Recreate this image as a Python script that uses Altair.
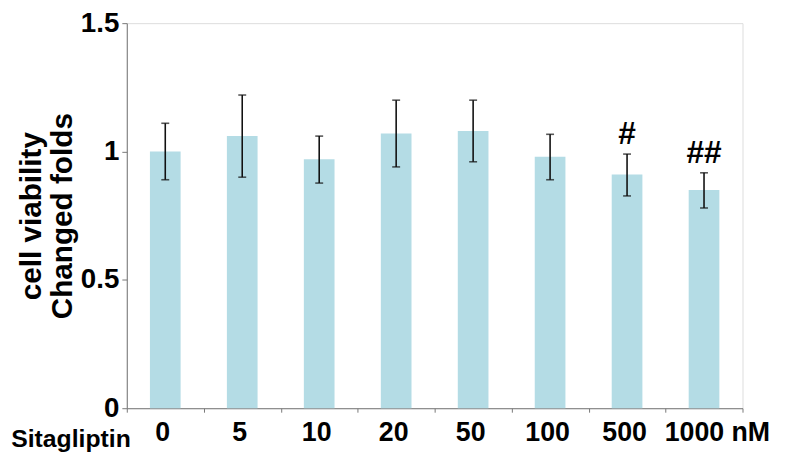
import altair as alt
import pandas as pd

doses = ["0", "5", "10", "20", "50", "100", "500", "1000"]
means = [1.00, 1.06, 0.97, 1.07, 1.08, 0.98, 0.91, 0.85]
err_low = [0.89, 0.90, 0.877, 0.94, 0.96, 0.89, 0.827, 0.78]
err_high = [1.11, 1.22, 1.06, 1.20, 1.20, 1.067, 0.99, 0.917]
marks = ["", "", "", "", "", "", "#", "##"]

df = pd.DataFrame({"dose": doses, "mean": means, "lo": err_low, "hi": err_high, "mark": marks})

FONT = "Liberation Sans"
W, H = 622, 389

x = alt.X("dose:N", sort=doses,
          scale=alt.Scale(paddingInner=0, paddingOuter=0),
          axis=alt.Axis(title=None, labelAngle=0, labelFont=FONT, labelFontWeight="bold",
                        labelFontSize=27, labelColor="#000", labelPadding=8,
                        labelExpr="datum.value == '1000' ? '1000 nM' : datum.value",
                        labelOffset={"condition": {"test": "datum.value == '1000'", "value": 13}, "value": -3},
                        tickBand="extent", tickSize=4, tickColor="#777", domainColor="#777",
                        grid=False))

y_scale = alt.Scale(domain=[0, 1.5], nice=False)

bars = alt.Chart(df).mark_bar(color="#b4dce5", size=31).encode(
    x=x,
    y=alt.Y("mean:Q", scale=y_scale,
            axis=alt.Axis(values=[0, 0.5, 1, 1.5], format="~g", grid=False,
                          title=["cell viability", "Changed folds"],
                          titleFont=FONT, titleFontWeight="bold", titleFontSize=30,
                          titleColor="#000", titleLineHeight=31, titlePadding=3,
                          labelFont=FONT, labelFontWeight="bold", labelFontSize=28,
                          labelColor="#000", labelPadding=3,
                          tickSize=5, tickColor="#777", domainColor="#777")),
)

rules = alt.Chart(df).mark_rule(color="#111", strokeWidth=1.6).encode(
    x=alt.X("dose:N", sort=doses), y=alt.Y("lo:Q", scale=y_scale), y2="hi:Q")

cap_lo = alt.Chart(df).mark_tick(color="#111", size=8, thickness=1.6).encode(
    x=alt.X("dose:N", sort=doses), y=alt.Y("lo:Q", scale=y_scale))
cap_hi = alt.Chart(df).mark_tick(color="#111", size=8, thickness=1.6).encode(
    x=alt.X("dose:N", sort=doses), y=alt.Y("hi:Q", scale=y_scale))

ann = alt.Chart(df).mark_text(font=FONT, fontWeight="bold", fontSize=32, color="#000",
                              baseline="middle", dy=-20).encode(
    x=alt.X("dose:N", sort=doses), y=alt.Y("hi:Q", scale=y_scale), text="mark:N")

sita = alt.Chart(pd.DataFrame({"t": ["Sitagliptin"]})).mark_text(
    font=FONT, fontWeight="bold", fontSize=25, color="#000", align="right", baseline="middle"
).encode(x=alt.value(4), y=alt.value(H + 31), text="t:N")

chart = alt.layer(bars, rules, cap_lo, cap_hi, ann, sita).properties(
    width=W, height=H,
    autosize=alt.AutoSizeParams(type="none"),
    padding={"left": 120, "top": 13, "right": 50, "bottom": 50},
).configure_view(stroke=None).configure(background="white")

chart.save("out.html", embed_options={"renderer": "svg", "actions": False})
